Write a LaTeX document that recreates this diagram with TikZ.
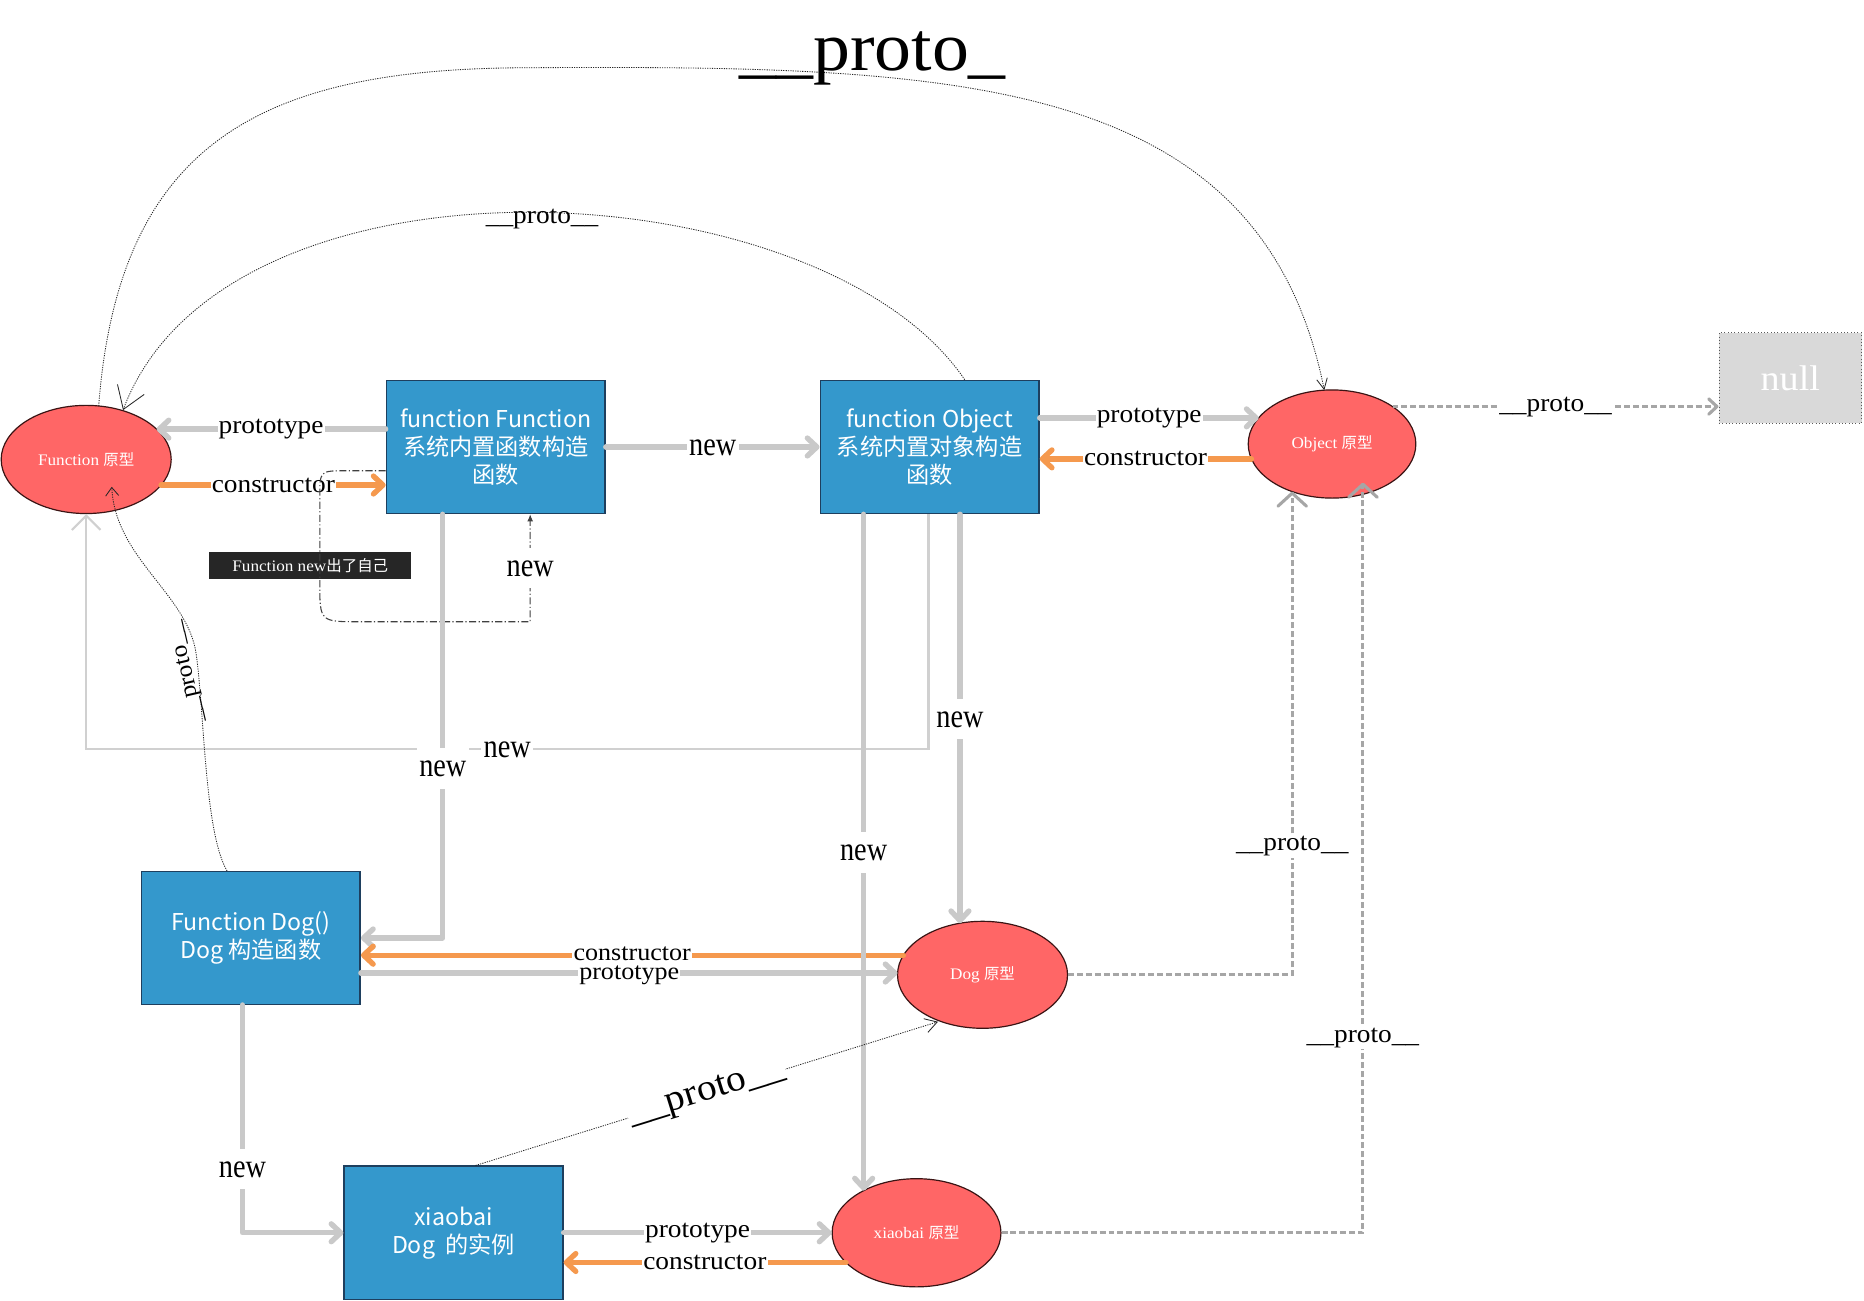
\documentclass[tikz,border=0pt]{standalone}
\usepackage{fontspec}
\setmainfont{Liberation Serif}[FakeStretch=1.07]
\newfontfamily\mynarrow{Liberation Serif}[FakeStretch=0.85]
\newfontfamily\mycjk{Noto Sans CJK SC}
\usetikzlibrary{arrows.meta,shapes.geometric,calc}
\definecolor{boxblue}{HTML}{3498CC}
\definecolor{boxedge}{HTML}{1E3F5E}
\definecolor{ellred}{HTML}{FF6666}
\definecolor{elledge}{HTML}{3A1414}
\definecolor{lgrey}{HTML}{C9C9C9}
\definecolor{dgreyc}{HTML}{A6A6A6}
\definecolor{orng}{HTML}{F5994E}
\definecolor{nullgrey}{HTML}{D9D9D9}
\definecolor{thingrey}{HTML}{D0D0D0}
\begin{document}
\begin{tikzpicture}[x=1pt,y=-1pt,
  box/.style={rectangle, draw=boxedge, fill=boxblue, line width=1.2pt, minimum width=184pt, minimum height=112pt, inner sep=0pt, text=white, align=center, font=\mycjk\fontsize{19.5}{23.5}\selectfont},
  protoell/.style={ellipse, draw=elledge, fill=ellred, line width=1pt, minimum width=143pt, minimum height=91pt, inner sep=0pt, text=white, font=\fontsize{13.5}{16}\selectfont},
  gline/.style={draw=lgrey, line width=4.5pt, line cap=round, line join=round},
  oline/.style={draw=orng, line width=4.5pt, line cap=round, line join=round},
  chev/.style={-{Straight Barb[length=8pt,width=15pt,round]}},
  dline/.style={draw=dgreyc, line width=2.6pt, dash pattern=on 5pt off 2.5pt},
  dchev/.style={-{Straight Barb[length=11pt,width=24pt,round]}},
  dotline/.style={draw=black!85, line width=0.7pt, dash pattern=on 1pt off 1pt},
  lbl/.style={fill=white, inner xsep=1pt, inner ysep=1.5pt, font=\fontsize{21.5}{24}\selectfont},
  lblsm/.style={fill=white, inner xsep=1pt, inner ysep=0.5pt, font=\fontsize{20.5}{22}\selectfont},
  nlbl/.style={fill=white, inner xsep=2pt, inner ysep=4pt, text height=20pt, text depth=6pt, font=\mynarrow\fontsize{28}{30}\selectfont},
]
\fill[white] (0,0) rectangle (1568,1094.4);
\useasboundingbox (0,0) rectangle (1568,1094.4);

% ---------- nodes ----------
\node[protoell] (fP) at (72.5,386.5) {Function {\mycjk\fontsize{13}{16}\selectfont 原型}};
\node[protoell, minimum width=141pt] (oP) at (1120.5,373.5) {Object {\mycjk\fontsize{13}{16}\selectfont 原型}};
\node[protoell, minimum height=90pt] (dP) at (826.5,820) {Dog {\mycjk\fontsize{13}{16}\selectfont 原型}};
\node[protoell, minimum width=142pt] (xP) at (771,1037) {xiaobai {\mycjk\fontsize{13}{16}\selectfont 原型}};
\node[box] (fnF) at (417,376) {function Function\\系统内置函数构造\\函数};
\node[box] (fnO) at (782,376) {function Object\\系统内置对象构造\\函数};
\node[box, minimum height=111.5pt] (dogF) at (211,789) {Function Dog()\\Dog 构造函数};
\node[box] (xb) at (381.5,1037) {xiaobai\\Dog\ \ 的实例};
\node[draw=black!65, dotted, line width=0.8pt, fill=nullgrey, minimum width=120pt, minimum height=76pt, inner sep=0pt, text=white, font=\fontsize{30}{32}\selectfont] (nul) at (1506,318) {null};
\node[fill=black!85, minimum width=170pt, minimum height=23pt, inner sep=0pt, text=white, font=\fontsize{13.5}{16}\selectfont] (tag) at (261,475.5) {Function new{\mycjk\fontsize{13}{16}\selectfont 出了自己}};

% ---------- Function / Object row ----------
\draw[gline, chev] (fnF.west |- 0,361) -- node[lbl]{prototype} ($(fP.center)+(59.2,-25.5)$);
\draw[oline, chev] ($(fP.center)+(63,21.5)$) -- node[lbl]{constructor} (fnF.west |- 0,408);
\draw[gline, chev] (fnF.east) -- node[nlbl]{new} (fnO.west);
\draw[gline, chev] (fnO.east |- 0,351.5) -- node[lbl]{prototype} ($(oP.center)+(-61.7,-22)$);
\draw[oline, chev] ($(oP.center)+(-67.8,12.5)$) -- node[lbl]{constructor} (fnO.east |- 0,386);
\draw[dline, -{Straight Barb[length=7pt,width=13pt,round]}] ($(oP.center)+(50.9,-31.5)$) -- node[lbl]{\_\_proto\_\_} (nul.west |- 0,342);

% ---------- Function new loop ----------
\draw[draw=black!75, line width=0.9pt, dash pattern=on 6pt off 2pt on 1pt off 2pt, -{Latex[length=6pt,width=5pt]}]
  (fnF.west |- 0,396) -- (291,396) .. controls (269,396) .. (269,418) -- (269,490) .. controls (269,523) .. (302,523) -- (446,523) -- node[nlbl]{new} (fnF.south -| 446,0);

% ---------- thin L: Object -> Function prototype ----------
\draw[draw=thingrey, line width=1.8pt, -{Straight Barb[length=12pt,width=24pt]}]
  (fnO.south -| 781,0) -- (781,630) -- node[nlbl]{new} (72.5,630) -- (fP.south);

% ---------- verticals ----------
\draw[gline, chev] (fnF.south -| 372.5,0) -- node[nlbl,pos=0.6]{new} (372.5,789) -- (dogF.east);
\draw[gline, chev] (fnO.south -| 807.5,0) -- node[nlbl]{new} ($(dP.center)+(-19,-43.4)$);

% ---------- Dog row ----------
\draw[gline, chev] (dogF.east |- 0,818.5) -- node[lblsm, yshift=-1.5pt]{prototype} ($(dP.center)+(-71.5,-1.5)$);
\draw[oline, chev] ($(dP.center)+(-66.5,-16.5)$) -- node[lblsm, yshift=1pt]{constructor} (dogF.east |- 0,803.5);
\draw[gline, chev] (fnO.south -| 726.5,0) -- node[nlbl]{new} ($(xP.center)+(-44.5,-35.5)$);

\draw[dline, dchev] (dP.east) -- (1087,820) -- node[lbl,pos=0.266]{\_\_proto\_\_} ($(oP.center)+(-33.5,40)$);
\draw[dline, dchev] (xP.east) -- (1146.5,1037) -- node[lbl,pos=0.26]{\_\_proto\_\_} ($(oP.center)+(26,32.5)$);

% ---------- xiaobai row ----------
\draw[gline, chev] (dogF.south -| 204,0) -- node[nlbl,pos=0.72]{new} (204,1037) -- (xb.west);
\draw[gline, chev] (xb.east) -- node[lbl]{prototype} (xP.west);
\draw[oline, chev] ($(xP.center)+(-59.3,25)$) -- node[lbl]{constructor} (xb.east |- 0,1062);

% ---------- dotted __proto__ links ----------
\draw[dotline, -{Straight Barb[length=10pt,width=12pt]}] (xb.north -| 400,0) -- node[sloped, fill=white, inner sep=1pt, font=\fontsize{31}{33}\selectfont]{\_\_proto\_\_} ($(dP.center)+(-37.5,39.5)$);

\draw[dotline, -{Straight Barb[length=7pt,width=11pt]}] (dogF.north -| 191,0) .. controls (172,700) and (172,600) .. (165,550) .. controls (158,500) and (97,470) .. ($(fP.center)+(21.5,23)$);
\node[rotate=103, font=\fontsize{20}{22}\selectfont] (dogProtoLbl) at (158,565) {\_\_proto\_\_};

\draw[dotline, -{Straight Barb[length=18pt,width=24pt]}] (fnO.north -| 811.5,0) .. controls (690,140) and (190,115) .. ($(fP.center)+(31,-41.5)$);
\node[font=\fontsize{21.5}{24}\selectfont] (midProtoLbl) at (456,184) {\_\_proto\_\_};

\draw[dotline, -{Straight Barb[length=9pt,width=9pt]}] ($(fP.center)+(10.5,-45)$) .. controls (100,120) and (220,58) .. (440,57) .. controls (800,55) and (1060,60) .. ($(oP.center)+(-6.5,-45.3)$);
\node[anchor=base, font=\fontsize{58}{60}\selectfont] (bigProtoLbl) at (734,59.5) {\_\_proto\_};
\end{tikzpicture}
\end{document}
